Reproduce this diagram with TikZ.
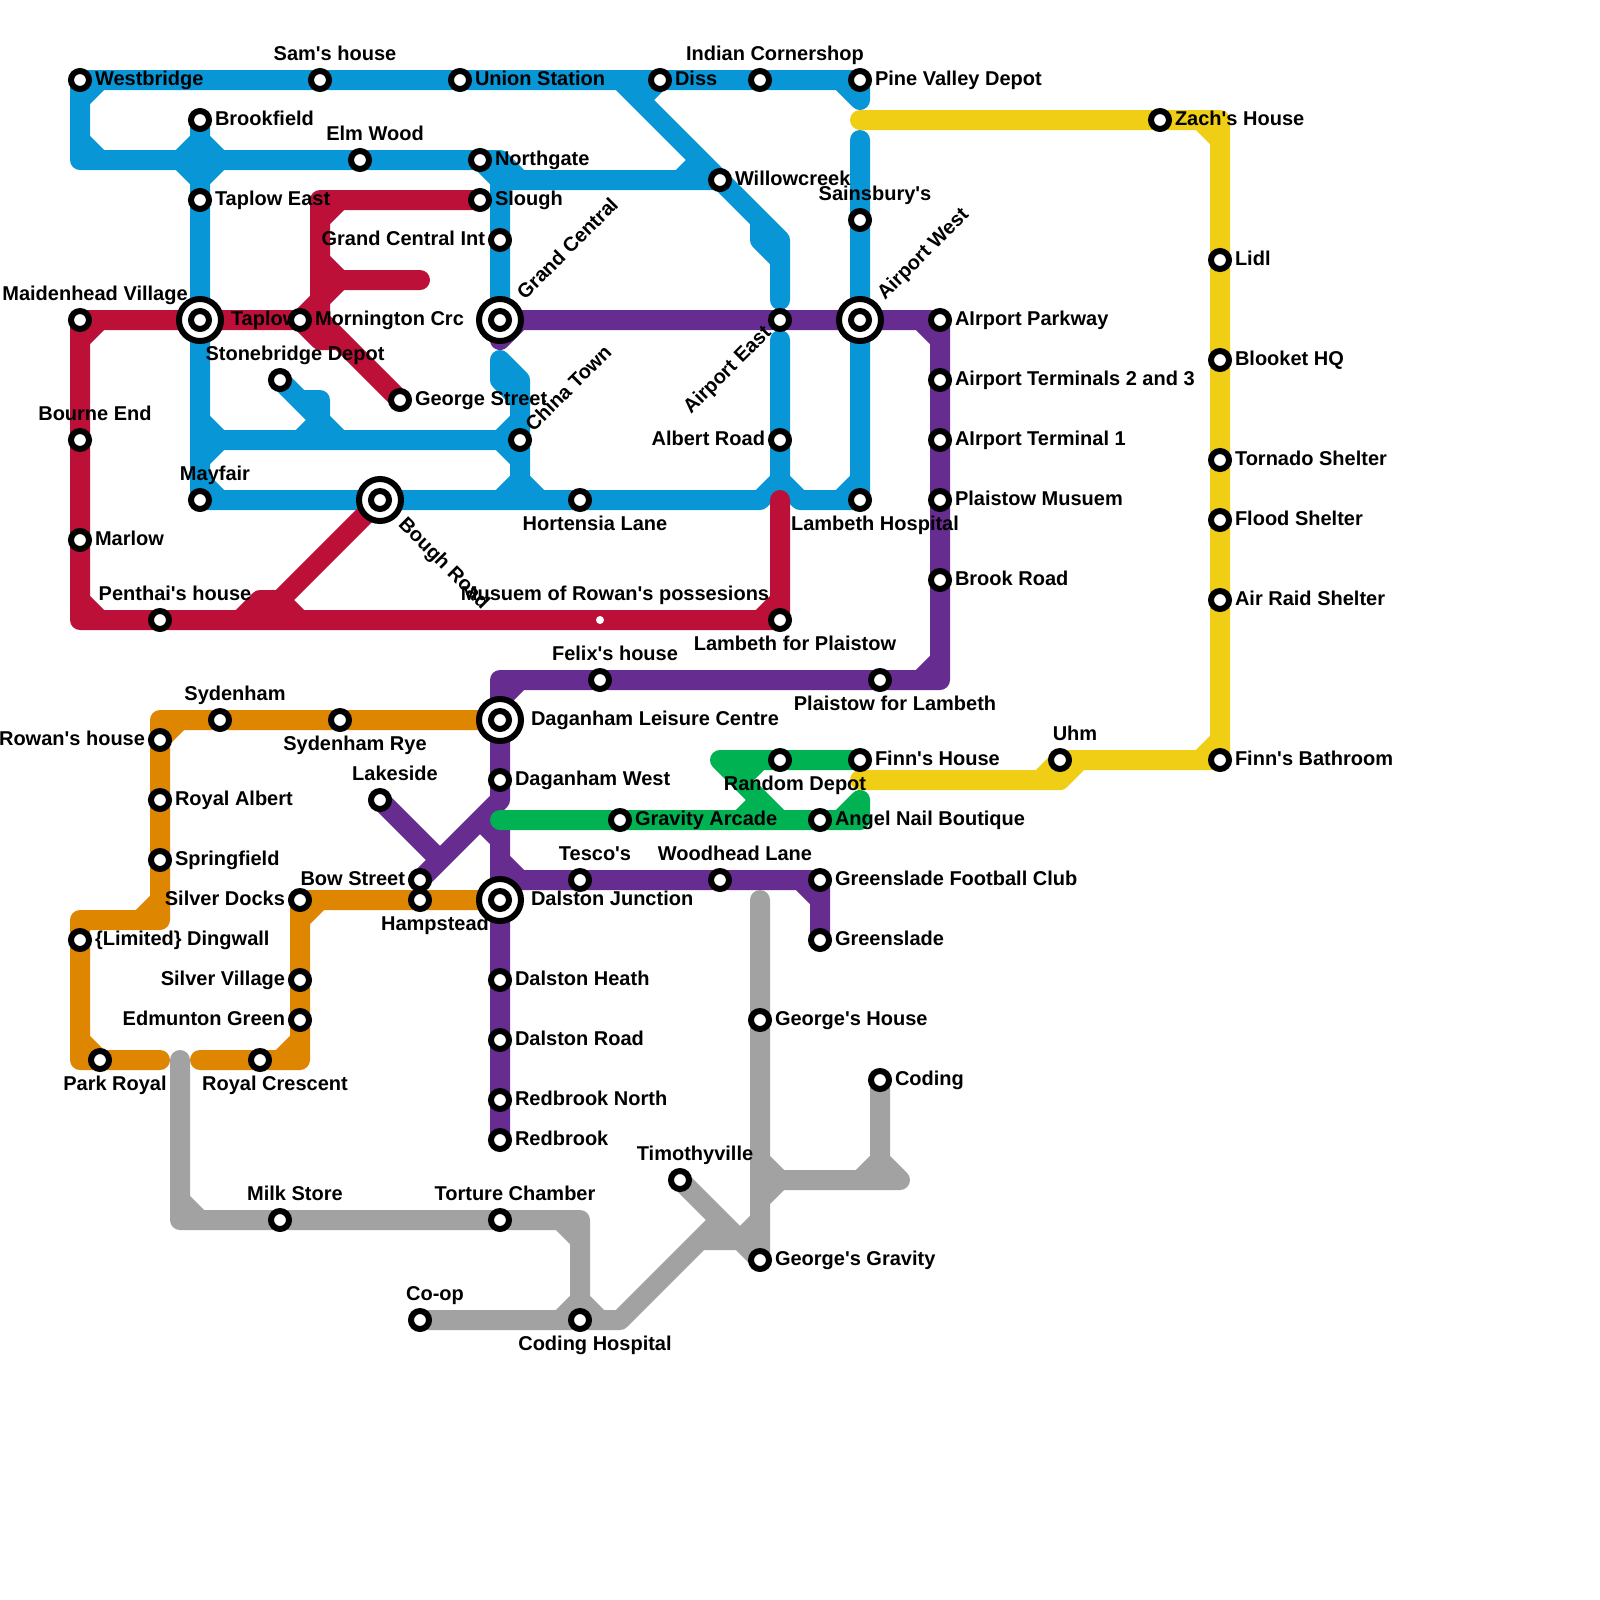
\documentclass[tikz,border=0pt]{standalone}
\usepackage{fontspec}
\newfontfamily\mapfont{Liberation Sans}
\pgfdeclarelayer{lines}
\pgfdeclarelayer{labels}
\pgfsetlayers{lines,labels,main}
\definecolor{mblue}{HTML}{0896D7}
\definecolor{mred}{HTML}{BD1038}
\definecolor{mpurple}{HTML}{662C90}
\definecolor{morange}{HTML}{DF8600}
\definecolor{mgreen}{HTML}{00B251}
\definecolor{myellow}{HTML}{F0CE15}
\definecolor{mgray}{HTML}{A2A2A2}
\tikzset{
  ln/.style={line width=0.5cm,line cap=round,line join=round},
  blueline/.style={ln,draw=mblue},
  redline/.style={ln,draw=mred},
  purpleline/.style={ln,draw=mpurple},
  orangeline/.style={ln,draw=morange},
  greenline/.style={ln,draw=mgreen},
  yellowline/.style={ln,draw=myellow},
  grayline/.style={ln,draw=mgray},
  stn/.style={circle,draw=black,fill=white,line width=0.15cm,minimum size=0.45cm,inner sep=0pt,outer sep=0pt},
  hub/.style={circle,draw=black,fill=white,line width=0.15cm,minimum size=1.05cm,inner sep=0pt,outer sep=0pt},
  dotstn/.style={circle,fill=white,minimum size=0.2cm,inner sep=0pt,outer sep=0pt},
  txt/.style={inner sep=0pt,outer sep=0pt,text=black,font=\mapfont\bfseries\fontsize{14.23}{17}\selectfont},
  lr/.style={txt,anchor=base west,xshift=0.375cm,yshift=-0.125cm},
  lh/.style={txt,anchor=base west,xshift=0.775cm,yshift=-0.125cm},
  ll/.style={txt,anchor=base east,xshift=-0.375cm,yshift=-0.125cm},
  la/.style={txt,anchor=base,xshift=0.375cm,yshift=0.5cm},
  lb/.style={txt,anchor=base,xshift=0.375cm,yshift=-0.75cm},
  lgc/.style={txt,anchor=base west,xshift=0.625cm,yshift=0.49cm,rotate=45},
  lct/.style={txt,anchor=base west,xshift=0.34cm,yshift=0.185cm,rotate=45},
  lae/.style={txt,anchor=base east,xshift=-0.2cm,yshift=-0.35cm,rotate=45},
  lbr/.style={txt,anchor=base west,xshift=0.44cm,yshift=-0.64cm,rotate=-45},
}
% id, x, y, label style, label text
\newcommand{\stat}[5]{%
  \node[stn] (#1) at (#2,-#3) {};
  \begin{pgfonlayer}{labels}\node[#4] (#1-label) at (#1.center) {#5};\end{pgfonlayer}}
\newcommand{\hubstat}[5]{%
  \node[hub] (#1) at (#2,-#3) {};
  \node[stn] (#1-core) at (#1.center) {};
  \begin{pgfonlayer}{labels}\node[#4] (#1-label) at (#1.center) {#5};\end{pgfonlayer}}
\begin{document}
\begin{tikzpicture}[x=0.5cm,y=0.5cm]
\useasboundingbox (0,0) rectangle (80,-80);
% stations
\stat{westbridge}{4}{4}{lr}{Westbridge}
\stat{sams}{16}{4}{la}{Sam's house}
\stat{union}{23}{4}{lr}{Union Station}
\stat{diss}{33}{4}{lr}{Diss}
\stat{indian}{38}{4}{la}{Indian Cornershop}
\stat{pine}{43}{4}{lr}{Pine Valley Depot}
\stat{brookfield}{10}{6}{lr}{Brookfield}
\stat{elm}{18}{8}{la}{Elm Wood}
\stat{northgate}{24}{8}{lr}{Northgate}
\stat{tapeast}{10}{10}{lr}{Taplow East}
\stat{slough}{24}{10}{lr}{Slough}
\stat{gcint}{25}{12}{ll}{Grand Central Int}
\stat{willow}{36}{9}{lr}{Willowcreek}
\stat{sains}{43}{11}{la}{Sainsbury's}
\stat{maiden}{4}{16}{la}{Maidenhead Village}
\hubstat{taplow}{10}{16}{lh}{Taplow}
\stat{morn}{15}{16}{lr}{Mornington Crc}
\hubstat{gcentral}{25}{16}{lgc}{Grand Central}
\stat{apeast}{39}{16}{lae}{Airport East}
\hubstat{apwest}{43}{16}{lgc}{Airport West}
\stat{appark}{47}{16}{lr}{AIrport Parkway}
\stat{apt23}{47}{19}{lr}{Airport Terminals 2 and 3}
\stat{apt1}{47}{22}{lr}{AIrport Terminal 1}
\stat{plmus}{47}{25}{lr}{Plaistow Musuem}
\stat{brookrd}{47}{29}{lr}{Brook Road}
\stat{stone}{14}{19}{la}{Stonebridge Depot}
\stat{georgest}{20}{20}{lr}{George Street}
\stat{china}{26}{22}{lct}{China Town}
\stat{bourne}{4}{22}{la}{Bourne End}
\stat{albert}{39}{22}{ll}{Albert Road}
\stat{mayfair}{10}{25}{la}{Mayfair}
\hubstat{bough}{19}{25}{lbr}{Bough Road}
\stat{hortensia}{29}{25}{lb}{Hortensia Lane}
\stat{lambhosp}{43}{25}{lb}{Lambeth Hospital}
\stat{marlow}{4}{27}{lr}{Marlow}
\stat{penthai}{8}{31}{la}{Penthai's house}
\node[dotstn] (museum) at (30,-31) {};
\begin{pgfonlayer}{labels}\node[la] (museum-label) at (museum.center) {Musuem of Rowan's possesions};\end{pgfonlayer}
\stat{lambplai}{39}{31}{lb}{Lambeth for Plaistow}
\stat{felix}{30}{34}{la}{Felix's house}
\stat{plailamb}{44}{34}{lb}{Plaistow for Lambeth}
\hubstat{dagleis}{25}{36}{lh}{Daganham Leisure Centre}
\stat{sydenham}{11}{36}{la}{Sydenham}
\stat{sydrye}{17}{36}{lb}{Sydenham Rye}
\stat{rowan}{8}{37}{ll}{Rowan's house}
\stat{royalb}{8}{40}{lr}{Royal Albert}
\stat{spring}{8}{43}{lr}{Springfield}
\stat{dagwest}{25}{39}{lr}{Daganham West}
\stat{lakeside}{19}{40}{la}{Lakeside}
\stat{bow}{21}{44}{ll}{Bow Street}
\stat{hamp}{21}{45}{lb}{Hampstead}
\stat{silverd}{15}{45}{ll}{Silver Docks}
\hubstat{dalston}{25}{45}{lh}{Dalston Junction}
\stat{tesco}{29}{44}{la}{Tesco's}
\stat{woodhead}{36}{44}{la}{Woodhead Lane}
\stat{gsfc}{41}{44}{lr}{Greenslade Football Club}
\stat{gslade}{41}{47}{lr}{Greenslade}
\stat{dingwall}{4}{47}{lr}{\{Limited\} Dingwall}
\stat{silverv}{15}{49}{ll}{Silver Village}
\stat{edmunton}{15}{51}{ll}{Edmunton Green}
\stat{parkroyal}{5}{53}{lb}{Park Royal}
\stat{royalc}{13}{53}{lb}{Royal Crescent}
\stat{dalheath}{25}{49}{lr}{Dalston Heath}
\stat{dalroad}{25}{52}{lr}{Dalston Road}
\stat{rednorth}{25}{55}{lr}{Redbrook North}
\stat{redbrook}{25}{57}{lr}{Redbrook}
\stat{georgeh}{38}{51}{lr}{George's House}
\stat{coding}{44}{54}{lr}{Coding}
\stat{timothy}{34}{59}{la}{Timothyville}
\stat{milk}{14}{61}{la}{Milk Store}
\stat{torture}{25}{61}{la}{Torture Chamber}
\stat{georgeg}{38}{63}{lr}{George's Gravity}
\stat{coop}{21}{66}{la}{Co-op}
\stat{codinghosp}{29}{66}{lb}{Coding Hospital}
\stat{random}{39}{38}{lb}{Random Depot}
\stat{finn}{43}{38}{lr}{Finn's House}
\stat{gravarc}{31}{41}{lr}{Gravity Arcade}
\stat{angel}{41}{41}{lr}{Angel Nail Boutique}
\stat{uhm}{53}{38}{la}{Uhm}
\stat{bathroom}{61}{38}{lr}{Finn's Bathroom}
\stat{zach}{58}{6}{lr}{Zach's House}
\stat{lidl}{61}{13}{lr}{Lidl}
\stat{blooket}{61}{18}{lr}{Blooket HQ}
\stat{tornado}{61}{23}{lr}{Tornado Shelter}
\stat{flood}{61}{26}{lr}{Flood Shelter}
\stat{airraid}{61}{30}{lr}{Air Raid Shelter}
% bends and junctions
\foreach \x/\y in {43/5,42/4,4/8,25/8,25/9,4/5,5/4,4/7,5/8,26/9,9/8,10/7,11/8,10/9,
  31/4,39/12,39/15,38/11,38/12,39/13,32/5,34/9,35/8,25/18,26/19,26/25,25/19,26/20,
  10/22,26/22,10/21,11/22,10/23,26/21,25/22,26/23,16/21,17/22,15/20,16/20,16/22,15/22,
  38/25,39/24,10/24,11/25,26/24,25/25,27/25,39/17,40/25,42/25,43/24,43/7,
  4/31,39/31,39/25,16/16,4/17,5/16,4/30,5/31,38/31,39/30,16/10,16/17,17/17,16/11,17/10,
  16/14,21/14,16/13,17/14,16/15,13/31,13/30,14/30,15/31,12/31,14/31,
  47/34,25/34,25/40,25/17,26/16,46/16,47/17,46/34,47/33,25/35,26/34,22/43,24/41,25/42,25/41,
  25/44,25/43,26/44,40/44,41/45,
  8/36,8/46,4/46,4/53,8/53,9/36,7/46,8/45,4/52,10/53,15/53,14/53,15/52,15/46,16/45,
  43/41,43/40,42/41,36/38,39/41,37/39,38/38,38/40,37/41,
  43/6,61/6,52/39,43/39,53/39,54/38,60/6,61/7,60/38,61/37,
  9/53,9/61,29/61,29/66,9/60,10/61,28/61,29/62,31/66,36/61,35/62,38/62,28/66,29/65,30/66,38/45,
  38/59,45/59,38/58,39/59,38/60,44/59,43/59,44/58,37/62,38/61}
  {\coordinate (c\x-\y) at (\x,-\y);}
% routes
\begin{pgfonlayer}{lines}
\draw[blueline] (westbridge.center)--(pine.center)--(c43-5) (c42-4)--(c43-5)
  (westbridge.center)--(c4-8)--(c25-8)--(c25-9)--(willow.center)
  (c4-5)--(c5-4) (c4-7)--(c5-8) (northgate.center)--(c25-9) (c25-8)--(c26-9)
  (brookfield.center)--(mayfair.center)
  (c9-8)--(c10-7)--(c11-8)--(c10-9)--cycle
  (c25-9)--(gcentral.center)
  (c31-4)--(c39-12)--(c39-15) (c38-11)--(c38-12)--(c39-13) (c38-12)--(c39-12)
  (c32-5)--(diss.center) (c34-9)--(c35-8)
  (c25-18)--(c26-19)--(c26-25) (c25-18)--(c25-19)--(c26-20) (c25-19)--(c26-19)
  (c10-22)--(china.center) (c10-21)--(c11-22)--(c10-23) (c26-21)--(c25-22)--(c26-23)
  (stone.center)--(c16-21)--(c17-22) (c15-20)--(c16-20)--(c16-22) (c16-21)--(c15-22)
  (mayfair.center)--(c38-25)--(c39-24) (c10-24)--(c11-25) (c25-25)--(c26-24)--(c27-25)
  (c39-17)--(c39-24)--(c40-25)--(lambhosp.center) (c42-25)--(c43-24)
  (c43-7)--(lambhosp.center);
\draw[redline] (c16-16)--(maiden.center)--(c4-31)--(c39-31)--(c39-25)
  (c4-17)--(c5-16) (c4-30)--(c5-31) (c38-31)--(c39-30)
  (slough.center)--(c16-10)--(c16-17)--(c17-17) (c16-11)--(c17-10)
  (c16-14)--(c21-14) (c16-13)--(c17-14)--(c16-15)--(morn.center)--(c16-17)
  (c16-16)--(georgest.center)
  (bough.center)--(c13-31) (c13-31)--(c13-30)--(c14-30)--(c15-31) (c12-31)--(c13-30) (c14-30)--(c14-31);
\draw[purpleline] (gcentral.center)--(appark.center)--(c47-34)--(c25-34)--(c25-40)--(bow.center)
  (gcentral.center)--(c25-17)--(c26-16) (c46-16)--(c47-17) (c46-34)--(c47-33) (c25-35)--(c26-34)
  (lakeside.center)--(c22-43) (c24-41)--(c25-42) (c25-41)--(redbrook.center)
  (c25-44)--(gsfc.center)--(gslade.center) (c25-43)--(c26-44) (c40-44)--(c41-45);
\draw[orangeline] (dagleis.center)--(c8-36)--(c8-46)--(c4-46)--(c4-53)--(c8-53)
  (rowan.center)--(c9-36) (c7-46)--(c8-45) (c4-52)--(parkroyal.center)
  (c10-53)--(c15-53)--(silverd.center)--(dalston.center) (c14-53)--(c15-52) (c15-46)--(c16-45);
\draw[greenline] (c25-41)--(c43-41)--(c43-40)--(c42-41)
  (c36-38)--(finn.center) (c36-38)--(c39-41) (c37-39)--(c38-38) (c38-40)--(c37-41);
\draw[yellowline] (c43-6)--(c61-6)--(bathroom.center)--(uhm.center)--(c52-39)--(c43-39)
  (uhm.center)--(c53-39)--(c54-38) (c52-39)--(c53-39) (c60-6)--(c61-7) (c60-38)--(c61-37);
\draw[grayline] (c9-53)--(c9-61)--(c29-61)--(c29-66) (c9-60)--(c10-61) (c28-61)--(c29-62)
  (coop.center)--(c31-66)--(c36-61) (c35-62)--(c38-62) (c28-66)--(c29-65)--(c30-66)
  (timothy.center)--(georgeg.center) (c38-45)--(georgeg.center)
  (c38-59)--(c45-59) (c38-58)--(c39-59)--(c38-60)
  (coding.center)--(c44-59) (c43-59)--(c44-58)--(c45-59) (c37-62)--(c38-61);
\end{pgfonlayer}
\end{tikzpicture}
\end{document}
